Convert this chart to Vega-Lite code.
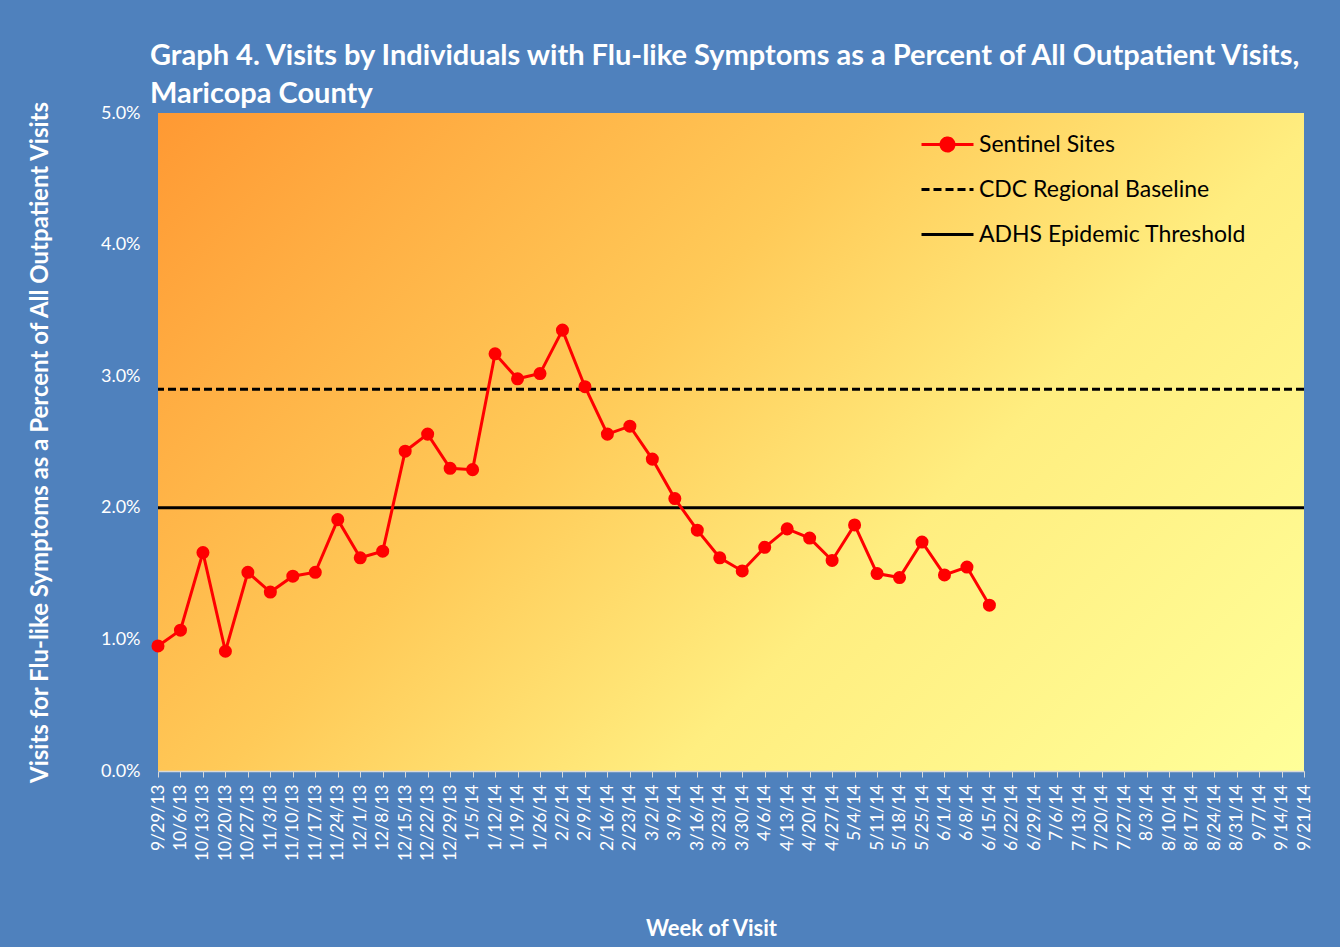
{
  "$schema": "https://vega.github.io/schema/vega-lite/v6.json",
  "width": 1146,
  "height": 658,
  "autosize": "none",
  "padding": {"left": 158, "top": 113, "right": 36, "bottom": 176},
  "background": "#4F81BD",
  "title": {
    "text": ["Graph 4. Visits by Individuals with Flu-like Symptoms as a Percent of All Outpatient Visits,", "Maricopa County"],
    "anchor": "start",
    "frame": "group",
    "dx": -8,
    "offset": -9,
    "font": "Lato",
    "fontSize": 29,
    "fontWeight": "bold",
    "color": "white",
    "lineHeight": 38
  },
  "config": {
    "font": "Lato",
    "view": {
      "stroke": null,
      "fill": {
        "gradient": "linear",
        "x1": 0, "y1": 0, "x2": 1.184, "y2": 0.68,
        "stops": [
          {"offset": 0, "color": "#FF9933"},
          {"offset": 0.4, "color": "#FFCA58"},
          {"offset": 0.65, "color": "#FFEE80"},
          {"offset": 1, "color": "#FFFF99"}
        ]
      }
    },
    "legend": {
      "orient": "none",
      "legendX": 775,
      "legendY": 17,
      "title": null,
      "labelFont": "Lato",
      "labelFontSize": 23,
      "labelColor": "black",
      "labelLimit": 500,
      "symbolSize": 676,
      "symbolStrokeWidth": 3,
      "rowPadding": 18,
      "labelOffset": 17,
      "symbolType": "stroke"
    }
  },
  "datasets": {
    "sentinel": [
      {"week": "9/29/13", "pct": 0.0095},
      {"week": "10/6/13", "pct": 0.0107},
      {"week": "10/13/13", "pct": 0.0166},
      {"week": "10/20/13", "pct": 0.0091},
      {"week": "10/27/13", "pct": 0.0151},
      {"week": "11/3/13", "pct": 0.0136},
      {"week": "11/10/13", "pct": 0.0148},
      {"week": "11/17/13", "pct": 0.0151},
      {"week": "11/24/13", "pct": 0.0191},
      {"week": "12/1/13", "pct": 0.0162},
      {"week": "12/8/13", "pct": 0.0167},
      {"week": "12/15/13", "pct": 0.0243},
      {"week": "12/22/13", "pct": 0.0256},
      {"week": "12/29/13", "pct": 0.0230},
      {"week": "1/5/14", "pct": 0.0229},
      {"week": "1/12/14", "pct": 0.0317},
      {"week": "1/19/14", "pct": 0.0298},
      {"week": "1/26/14", "pct": 0.0302},
      {"week": "2/2/14", "pct": 0.0335},
      {"week": "2/9/14", "pct": 0.0292},
      {"week": "2/16/14", "pct": 0.0256},
      {"week": "2/23/14", "pct": 0.0262},
      {"week": "3/2/14", "pct": 0.0237},
      {"week": "3/9/14", "pct": 0.0207},
      {"week": "3/16/14", "pct": 0.0183},
      {"week": "3/23/14", "pct": 0.0162},
      {"week": "3/30/14", "pct": 0.0152},
      {"week": "4/6/14", "pct": 0.0170},
      {"week": "4/13/14", "pct": 0.0184},
      {"week": "4/20/14", "pct": 0.0177},
      {"week": "4/27/14", "pct": 0.0160},
      {"week": "5/4/14", "pct": 0.0187},
      {"week": "5/11/14", "pct": 0.0150},
      {"week": "5/18/14", "pct": 0.0147},
      {"week": "5/25/14", "pct": 0.0174},
      {"week": "6/1/14", "pct": 0.0149},
      {"week": "6/8/14", "pct": 0.0155},
      {"week": "6/15/14", "pct": 0.0126}
    ],
    "refs": [
      {"series": "CDC Regional Baseline", "pct": 0.029},
      {"series": "ADHS Epidemic Threshold", "pct": 0.020}
    ]
  },
  "layer": [
    {
      "data": {"name": "refs"},
      "mark": {"type": "rule", "strokeWidth": 3},
      "encoding": {
        "y": {"field": "pct", "type": "quantitative", "scale": {"domain": [0, 0.05]}},
        "color": {"field": "series", "type": "nominal"},
        "strokeDash": {
          "condition": {"test": "datum.series === 'CDC Regional Baseline'", "value": [8, 4]},
          "value": [1, 0]
        }
      }
    },
    {
      "data": {"name": "sentinel"},
      "mark": {"type": "line", "strokeWidth": 3, "point": {"filled": true, "size": 170}},
      "encoding": {
        "x": {
          "field": "week",
          "type": "ordinal",
          "sort": null,
          "scale": {
            "type": "point",
            "padding": 0,
            "domain": ["9/29/13","10/6/13","10/13/13","10/20/13","10/27/13","11/3/13","11/10/13","11/17/13","11/24/13","12/1/13","12/8/13","12/15/13","12/22/13","12/29/13","1/5/14","1/12/14","1/19/14","1/26/14","2/2/14","2/9/14","2/16/14","2/23/14","3/2/14","3/9/14","3/16/14","3/23/14","3/30/14","4/6/14","4/13/14","4/20/14","4/27/14","5/4/14","5/11/14","5/18/14","5/25/14","6/1/14","6/8/14","6/15/14","6/22/14","6/29/14","7/6/14","7/13/14","7/20/14","7/27/14","8/3/14","8/10/14","8/17/14","8/24/14","8/31/14","9/7/14","9/14/14","9/21/14"]
          },
          "axis": {
            "title": "Week of Visit",
            "titleColor": "white",
            "titleFont": "Lato",
            "titleFontSize": 22,
            "titleFontWeight": "bold",
            "titlePadding": 58,
            "titleX": 553,
            "labelAngle": -90,
            "labelColor": "white",
            "labelFont": "Lato",
            "labelFontSize": 17.5,
            "labelPadding": 7,
            "ticks": true,
            "tickColor": "#D9D9D9",
            "tickSize": 6,
            "domainColor": "#D9D9D9",
            "domainWidth": 1.5,
            "grid": false
          }
        },
        "y": {
          "field": "pct",
          "type": "quantitative",
          "scale": {"domain": [0, 0.05]},
          "axis": {
            "title": "Visits for Flu-like Symptoms as a Percent of All Outpatient Visits",
            "titleColor": "white",
            "titleFont": "Lato",
            "titleFontSize": 24,
            "titleFontWeight": "bold",
            "titlePadding": 48,
            "values": [0, 0.01, 0.02, 0.03, 0.04, 0.05],
            "format": ".1%",
            "labelColor": "white",
            "labelFont": "Lato",
            "labelFontSize": 18,
            "labelPadding": 18,
            "ticks": false,
            "domain": false,
            "grid": false
          }
        },
        "color": {
          "datum": "Sentinel Sites",
          "type": "nominal",
          "scale": {
            "domain": ["Sentinel Sites", "CDC Regional Baseline", "ADHS Epidemic Threshold"],
            "range": ["#FF0000", "#000000", "#000000"]
          },
          "legend": {
            "encode": {
              "symbols": {
                "update": {
                  "shape": {"signal": "datum.value === 'Sentinel Sites' ? 'M-2,0H2M-0.5,0A0.5,0.5,0,1,0,0.5,0A0.5,0.5,0,1,0,-0.5,0Z' : 'M-2,0H2'"},
                  "fill": {"signal": "datum.value === 'Sentinel Sites' ? '#FF0000' : 'transparent'"},
                  "strokeDash": {"signal": "datum.value === 'CDC Regional Baseline' ? [8, 4] : [1, 0]"}
                }
              }
            }
          }
        }
      }
    }
  ]
}
